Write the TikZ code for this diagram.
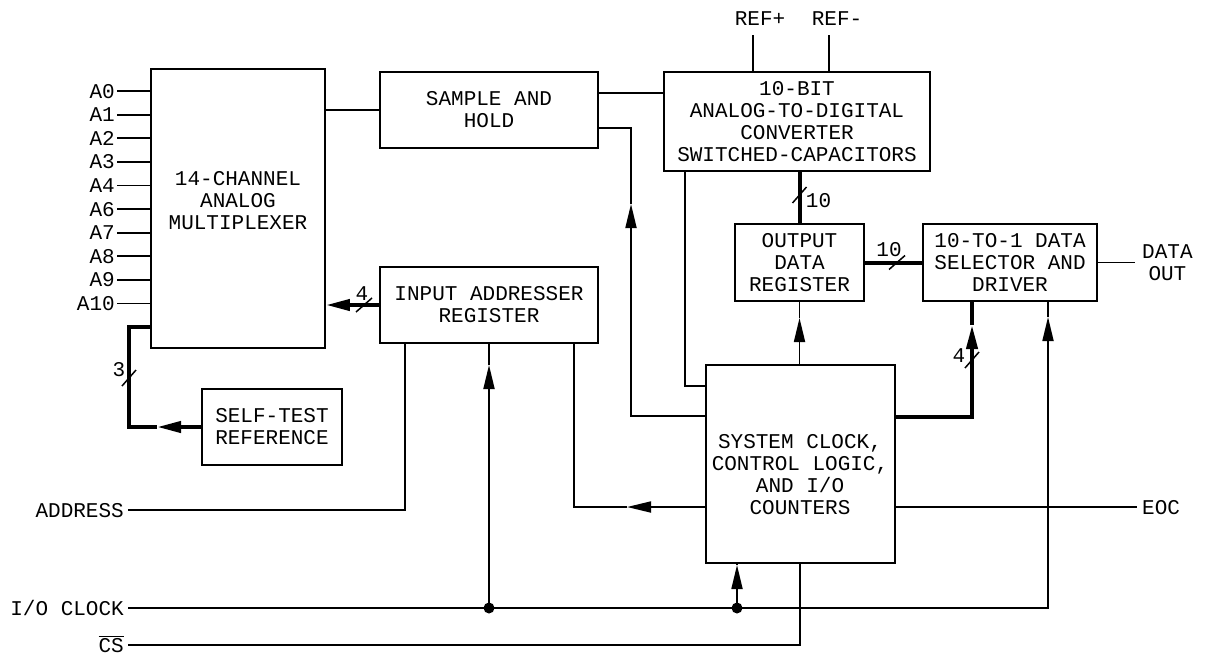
\documentclass[tikz,border=0pt]{standalone}
\usepackage{fontspec}
\setmainfont{Liberation Mono}
\usetikzlibrary{arrows.meta,calc}
\begin{document}
\begin{tikzpicture}[x=1pt,y=-1pt,
 thin/.style={line width=1.8pt},
 bus/.style={line width=4pt},
 box/.style={draw, line width=1.8pt, inner sep=0pt, font=\fontsize{21}{22}\selectfont, align=center},
 txt/.style={font=\fontsize{21}{22}\selectfont, align=center, inner sep=0pt},
 lbl/.style={font=\fontsize{21}{22}\selectfont, inner sep=0pt, text height=14pt, text depth=0pt},
 arr/.style={-{Triangle[length=24pt 0 0,width=11pt 0 0]}},
 dot/.style={circle, fill, inner sep=0pt, minimum size=11pt},
 slash/.style={line width=1.5pt},
]
\useasboundingbox (0,0) rectangle (1209,656);

% boxes
\node[box, minimum width=174pt, minimum height=279pt] (mux) at (238,208.5) {};
\node[txt] (muxt) at (238,201) {14-CHANNEL\\ANALOG\\MULTIPLEXER};
\node[box, minimum width=218pt, minimum height=76pt] (sh) at (489,110) {SAMPLE AND\\HOLD};
\node[box, minimum width=218pt, minimum height=76pt] (ia) at (489,305) {INPUT ADDRESSER\\REGISTER};
\node[box, minimum width=140pt, minimum height=76pt] (st) at (272,427) {SELF-TEST\\REFERENCE};
\node[box, minimum width=266pt, minimum height=99pt] (adc) at (797,121.5) {10-BIT\\ANALOG-TO-DIGITAL\\CONVERTER\\SWITCHED-CAPACITORS};
\node[box, minimum width=129pt, minimum height=77pt] (odr) at (799.5,262.5) {OUTPUT\\DATA\\REGISTER};
\node[box, minimum width=174pt, minimum height=77pt] (sel) at (1010,262.5) {10-TO-1 DATA\\SELECTOR AND\\DRIVER};
\node[box, minimum width=189pt, minimum height=198pt] (clk) at (800.5,464) {};
\node[txt] (clkt) at (800,475) {SYSTEM CLOCK,\\CONTROL LOGIC,\\AND I/O\\COUNTERS};

% analog inputs
\foreach \n/\y in {0/91,1/114.6,2/138.2,3/161.8,4/185.4,6/209,7/232.6,8/256.2,9/279.8,10/303.4}{
  \node[lbl, anchor=east] (a\n) at (115,\y) {A\n};
  \draw[thin] ($(a\n.east)+(2,0)$) -- (a\n.east -| mux.west);
}

% mux -> sample and hold
\draw[thin] (sh.west) -- (sh.west -| mux.east);
% sample and hold -> ADC
\coordinate (shA) at ($(sh.north east)+(0,22)$);
\draw[thin] (shA) -- (shA -| adc.west);
% clock -> sample and hold
\coordinate (sA) at (631,416);
\coordinate (sT) at (631,204);
\coordinate (sB) at (631,128);
\draw[thin, arr] (sA -| clk.west) -- (sA) -- (sT);
\draw[thin] (sT) -- (sB) -- (sB -| sh.east);

% REF inputs
\node[lbl] (refp) at (760,18) {REF+};
\node[lbl] (refm) at (837,18) {REF-};
\coordinate (rp) at (753,35);
\coordinate (rm) at (829,35);
\draw[thin] (rp) -- (rp |- adc.north);
\draw[thin] (rm) -- (rm |- adc.north);

% ADC -> clock
\coordinate (aL) at (685,386);
\draw[thin] (aL |- adc.south) -- (aL) -- (aL -| clk.west);

% ADC -> output data register (bus 10)
\draw[bus] (odr.north |- adc.south) -- (odr.north);
\coordinate (s10v) at (799.5,195);
\draw[slash] ($(s10v)+(-7,8)$) -- ($(s10v)+(7,-8)$);
\node[lbl] (l10v) at ($(s10v)+(19,5)$) {10};

% output data register -> selector (bus 10)
\draw[bus] (odr.east) -- (sel.west);
\coordinate (s10h) at (897,262.5);
\draw[slash] ($(s10h)+(-8,7)$) -- ($(s10h)+(8,-7)$);
\node[lbl] (l10h) at (889,249) {10};

% selector -> DATA OUT
\coordinate (dE) at (1135,262.5);
\draw[thin] (sel.east) -- (dE);
\node[txt, anchor=west] (dout) at (1142,263) {DATA\\OUT};

% clock -> output data register
\coordinate (oT) at (799.5,318);
\draw[thin, arr] (odr.south |- clk.north) -- (oT);
\draw[thin] (oT) -- (odr.south);

% clock -> selector (bus 4)
\coordinate (c4) at (972,417);
\coordinate (c4t) at (972,325);
\draw[bus, arr] (c4 -| clk.east) -- (c4) -- (c4t);
\draw[bus] (c4t) -- (c4t |- sel.south);
\coordinate (s4v) at (972,360);
\draw[slash] ($(s4v)+(-7,8)$) -- ($(s4v)+(7,-8)$);
\node[lbl] (l4v) at (959,355) {4};

% EOC
\node[lbl, anchor=west] (eoc) at (1142,507) {EOC};
\draw[thin] (clk.east |- eoc.west) -- ($(eoc.west)+(-5,0)$);

% input addresser -> mux (bus 4)
\draw[bus, arr] (ia.west) -- (ia.west -| mux.east);
\coordinate (s4h) at (364,305);
\draw[slash] ($(s4h)+(-8,7)$) -- ($(s4h)+(8,-7)$);
\node[lbl] (l4h) at (362,293) {4};

% self-test -> mux (bus 3)
\coordinate (bt) at (157,427);
\coordinate (b1) at (129,427);
\coordinate (b2) at (129,327);
\draw[bus, arr] (st.west) -- (bt);
\draw[bus] (bt) -- (b1) -- (b2) -- (b2 -| mux.west);
\coordinate (s3) at (129,378);
\draw[slash] ($(s3)+(-7,8)$) -- ($(s3)+(7,-8)$);
\node[lbl] (l3) at (119,369) {3};

% ADDRESS
\node[lbl, anchor=east] (addr) at (124,510) {ADDRESS};
\coordinate (adR) at (405,510);
\draw[thin] ($(addr.east)+(4,0)$) -- (adR) -- (adR |- ia.south);

% clock -> input addresser
\coordinate (cI) at (574,507);
\coordinate (cIt) at (627,507);
\draw[thin, arr] (clk.west |- cI) -- (cIt);
\draw[thin] (cIt) -- (cI) -- (cI |- ia.south);

% I/O CLOCK
\node[lbl, anchor=east] (ioc) at (124,608) {I/O CLOCK};
\coordinate (ioR) at (1048,608);
\coordinate (ioT) at (1048,317);
\draw[thin, arr] ($(ioc.east)+(4,0)$) -- (ioR) -- (ioT);
\draw[thin] (ioT) -- (ioT |- sel.south);
\node[dot] (d1) at (489,608) {};
\node[dot] (d2) at (737,608) {};
\coordinate (iaT) at (489,365);
\draw[thin, arr] (d1.center) -- (iaT);
\draw[thin] (iaT) -- (ia.south);
\coordinate (ckT) at (737,565);
\draw[thin, arr] (d2.center) -- (ckT);
\draw[thin] (ckT) -- (ckT |- clk.south);

% CS
\node[lbl, anchor=east] (cs) at (124,645) {$\overline{\hbox{CS}}$};
\coordinate (csR) at (800,645);
\draw[thin] ($(cs.east)+(4,0)$) -- (csR) -- (csR |- clk.south);
\end{tikzpicture}
\end{document}
